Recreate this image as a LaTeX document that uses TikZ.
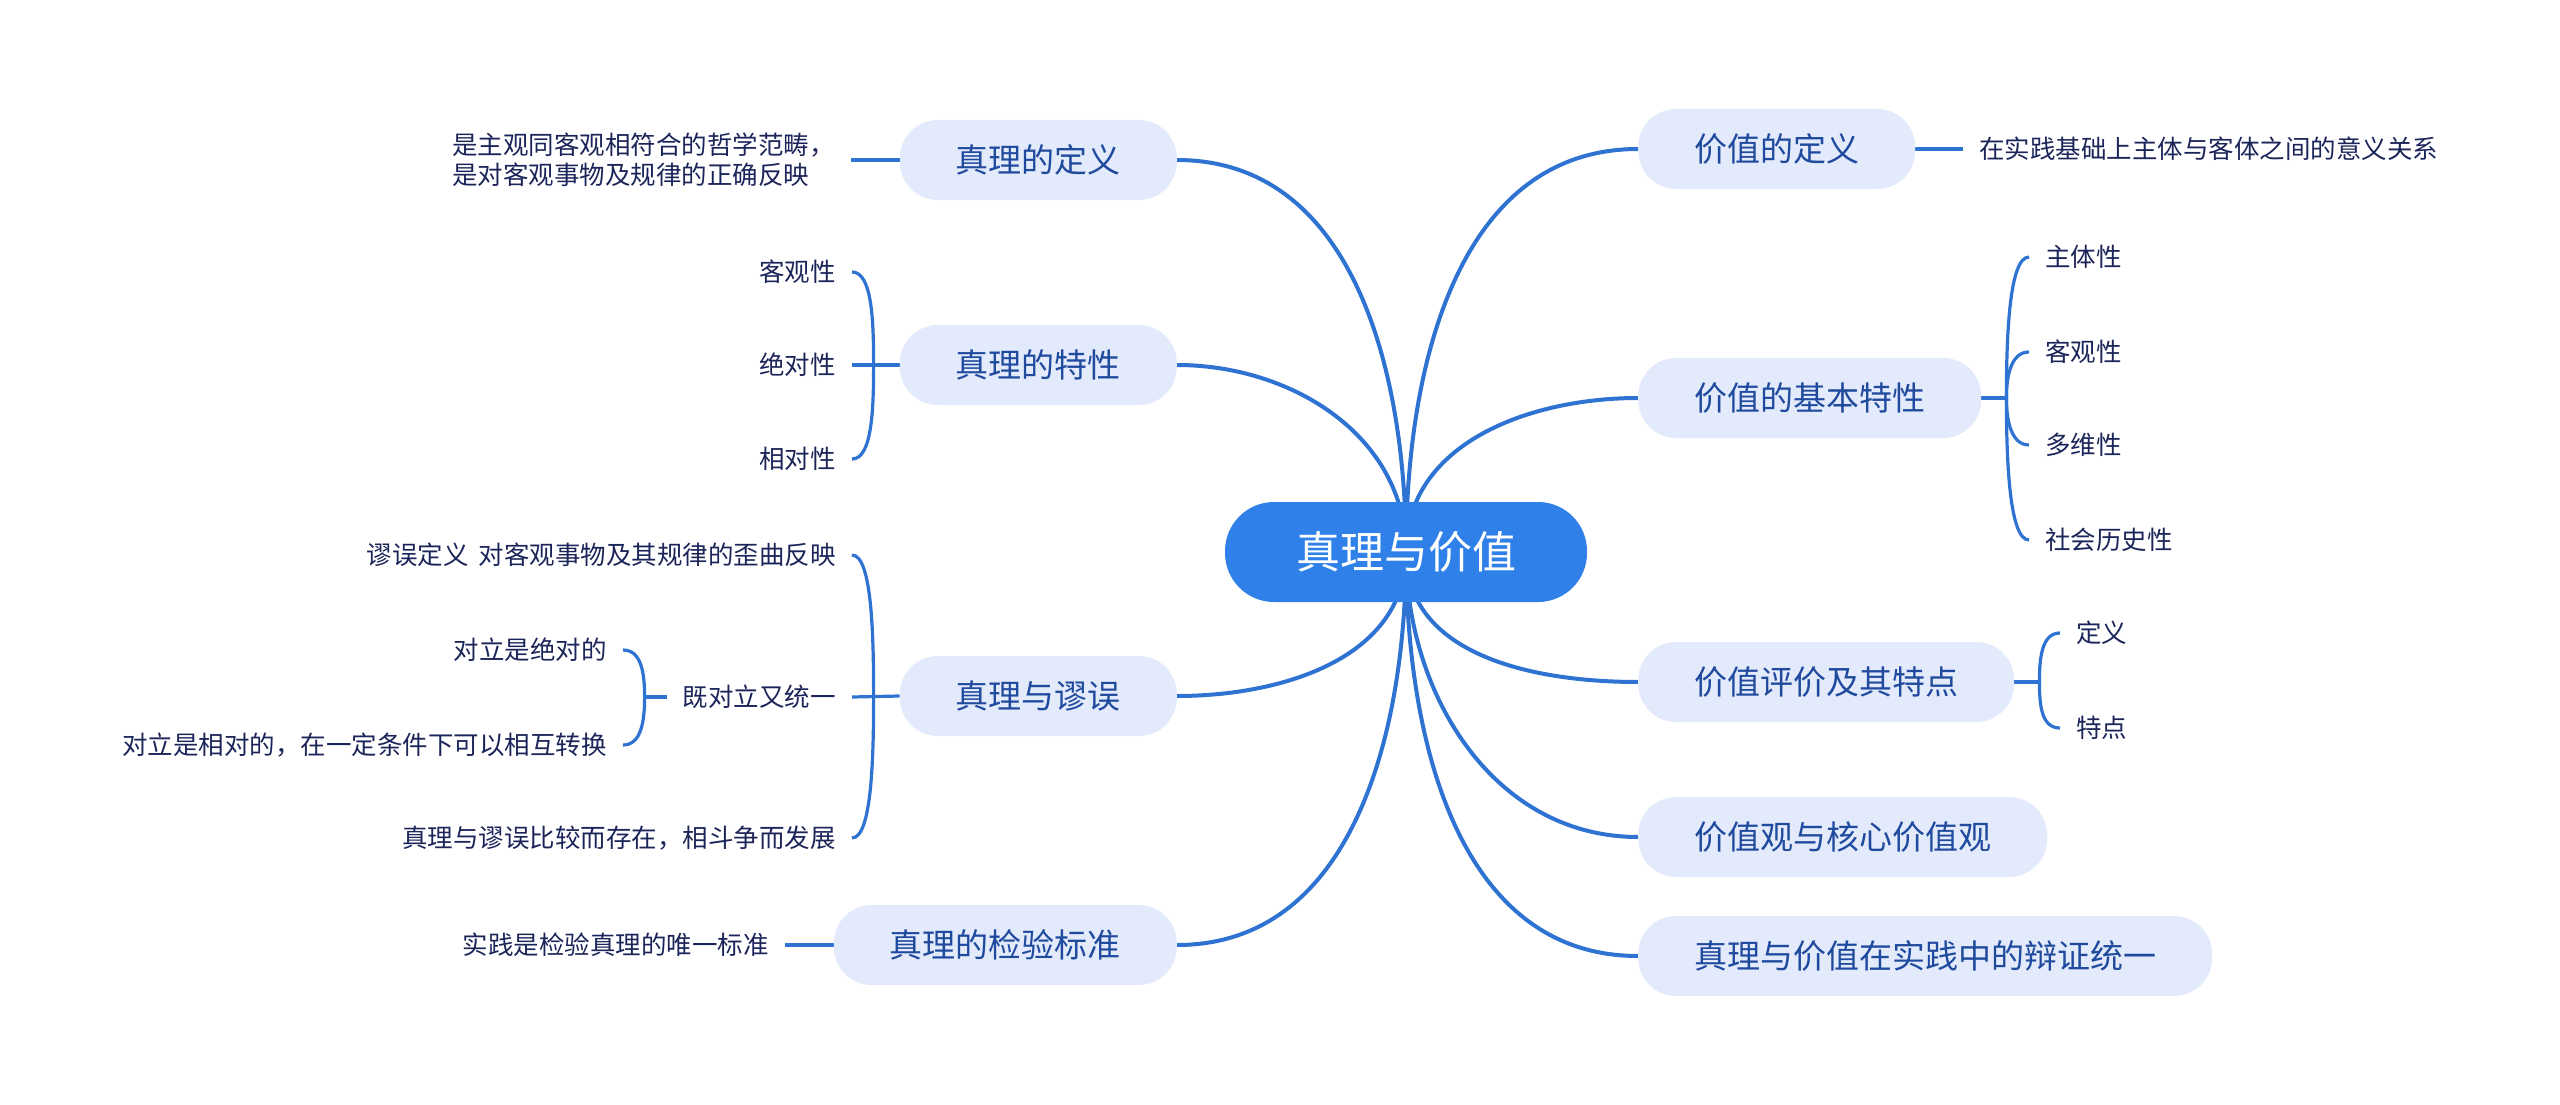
\documentclass[tikz,border=0pt]{standalone}
\usepackage{fontspec}
\setmainfont{Noto Sans CJK SC}
\usepackage{xcolor}
\usetikzlibrary{calc,positioning,backgrounds}

\definecolor{linkblue}{HTML}{2E72D2}
\definecolor{rootblue}{HTML}{2F80E8}
\definecolor{topicfill}{HTML}{E2EAFB}
\definecolor{topictext}{HTML}{1F4A9E}
\definecolor{leaftext}{HTML}{1C2559}

\begin{document}
\begin{tikzpicture}[
    x=1pt,
    y=1pt,
    link/.style={line width=4pt,draw=linkblue},
    twig/.style={line width=3.2pt,draw=linkblue},
    root/.style={rounded corners=49pt,fill=rootblue,text=white,
        minimum height=100pt,inner xsep=71pt,
        font=\fontsize{44}{50}\selectfont},
    topic/.style={rounded corners=38pt,fill=topicfill,text=topictext,
        minimum height=80pt,inner xsep=56pt,
        font=\fontsize{33}{38}\selectfont},
    leaf/.style={text=leaftext,inner xsep=16pt,inner ysep=2pt,
        font=\fontsize{25.5}{30}\selectfont}
]

\useasboundingbox (0,0) rectangle (2560,-1105);

% ---------------------------------------------------------
% Central topic
% ---------------------------------------------------------

\node[root] (root) at (1406,-552) {真理与价值};

% ---------------------------------------------------------
% Left branches: truth
% ---------------------------------------------------------

\node[topic,anchor=east] (tdef)  at (1177,-160) {真理的定义};
\node[topic,anchor=east] (tprop) at (1177,-365) {真理的特性};
\node[topic,anchor=east] (terr)  at (1177,-696) {真理与谬误};
\node[topic,anchor=east] (ttest) at (1177,-945) {真理的检验标准};

\node[leaf,anchor=east,align=left] (tdef1) at (851,-160)
    {是主观同客观相符合的哲学范畴，\\是对客观事物及规律的正确反映};

\node[leaf,anchor=east] (tp1) at (852,-272) {客观性};
\node[leaf,anchor=east] (tp2) at (852,-365) {绝对性};
\node[leaf,anchor=east] (tp3) at (852,-459) {相对性};

\node[leaf,anchor=east] (te1) at (852,-555)
    {谬误定义\hspace{0.4em}对客观事物及其规律的歪曲反映};
\node[leaf,anchor=east] (te2) at (852,-697) {既对立又统一};
\node[leaf,anchor=east] (te3) at (852,-838)
    {真理与谬误比较而存在，相斗争而发展};

\node[leaf,anchor=east] (tu1) at (623,-650) {对立是绝对的};
\node[leaf,anchor=east] (tu2) at (623,-745)
    {对立是相对的，在一定条件下可以相互转换};

\node[leaf,anchor=east] (tt1) at (785,-945) {实践是检验真理的唯一标准};

% ---------------------------------------------------------
% Right branches: value
% ---------------------------------------------------------

\node[topic,anchor=west] (vdef)   at (1638,-149) {价值的定义};
\node[topic,anchor=west] (vprop)  at (1638,-398) {价值的基本特性};
\node[topic,anchor=west] (veval)  at (1638,-682) {价值评价及其特点};
\node[topic,anchor=west] (vview)  at (1638,-837) {价值观与核心价值观};
\node[topic,anchor=west] (vunity) at (1638,-956) {真理与价值在实践中的辩证统一};

\node[leaf,anchor=west] (vd1) at (1963,-149)
    {在实践基础上主体与客体之间的意义关系};

\node[leaf,anchor=west] (vp1) at (2029,-257) {主体性};
\node[leaf,anchor=west] (vp2) at (2029,-352) {客观性};
\node[leaf,anchor=west] (vp3) at (2029,-445) {多维性};
\node[leaf,anchor=west] (vp4) at (2029,-540) {社会历史性};

\node[leaf,anchor=west] (ve1) at (2060,-633) {定义};
\node[leaf,anchor=west] (ve2) at (2060,-728) {特点};

% brace junctions
\coordinate (jtp) at ([xshift=-26pt]tprop.west);
\coordinate (jte) at ([xshift=-26pt]terr.west);
\coordinate (jtu) at ([xshift=-22pt]te2.west);
\coordinate (jvp) at ([xshift=25pt]vprop.east);
\coordinate (jve) at ([xshift=25pt]veval.east);

% ---------------------------------------------------------
% Connectors
% ---------------------------------------------------------

\begin{pgfonlayer}{background}

% root to main topics
\draw[link] (root.center) to[out=90,in=0]   (tdef.east);
\draw[link] (root.center) to[out=90,in=0]   (tprop.east);
\draw[link] (root.center) to[out=-90,in=0]  (terr.east);
\draw[link] (root.center) to[out=-90,in=0]  (ttest.east);

\draw[link] (root.center) to[out=90,in=180]  (vdef.west);
\draw[link] (root.center) to[out=90,in=180]  (vprop.west);
\draw[link] (root.center) to[out=-90,in=180] (veval.west);
\draw[link] (root.center) to[out=-90,in=180] (vview.west);
\draw[link] (root.center) to[out=-90,in=180] (vunity.west);

% single leaves
\draw[twig] (tdef.west)  -- (tdef1.east);
\draw[twig] (ttest.west) -- (tt1.east);
\draw[twig] (vdef.east)  -- (vd1.west);

% truth properties
\draw[twig] (tprop.west) -- (tp2.east);
\draw[twig] (jtp) to[out=90,in=0,out distance=45pt,in distance=20pt]  (tp1.east);
\draw[twig] (jtp) to[out=-90,in=0,out distance=45pt,in distance=20pt] (tp3.east);

% truth and error
\draw[twig] (terr.west) -- (te2.east);
\draw[twig] (jte) to[out=90,in=0,out distance=60pt,in distance=20pt]  (te1.east);
\draw[twig] (jte) to[out=-90,in=0,out distance=60pt,in distance=20pt] (te3.east);

\draw[twig] (te2.west) -- (jtu);
\draw[twig] (jtu) to[out=90,in=0,out distance=25pt,in distance=18pt]  (tu1.east);
\draw[twig] (jtu) to[out=-90,in=0,out distance=25pt,in distance=18pt] (tu2.east);

% value properties
\draw[twig] (vprop.east) -- (jvp);
\draw[twig] (jvp) to[out=90,in=180,out distance=60pt,in distance=20pt]  (vp1.west);
\draw[twig] (jvp) to[out=90,in=180,out distance=22pt,in distance=18pt]  (vp2.west);
\draw[twig] (jvp) to[out=-90,in=180,out distance=22pt,in distance=18pt] (vp3.west);
\draw[twig] (jvp) to[out=-90,in=180,out distance=60pt,in distance=20pt] (vp4.west);

% value evaluation
\draw[twig] (veval.east) -- (jve);
\draw[twig] (jve) to[out=90,in=180,out distance=25pt,in distance=18pt]  (ve1.west);
\draw[twig] (jve) to[out=-90,in=180,out distance=25pt,in distance=18pt] (ve2.west);

\end{pgfonlayer}

\end{tikzpicture}
\end{document}
